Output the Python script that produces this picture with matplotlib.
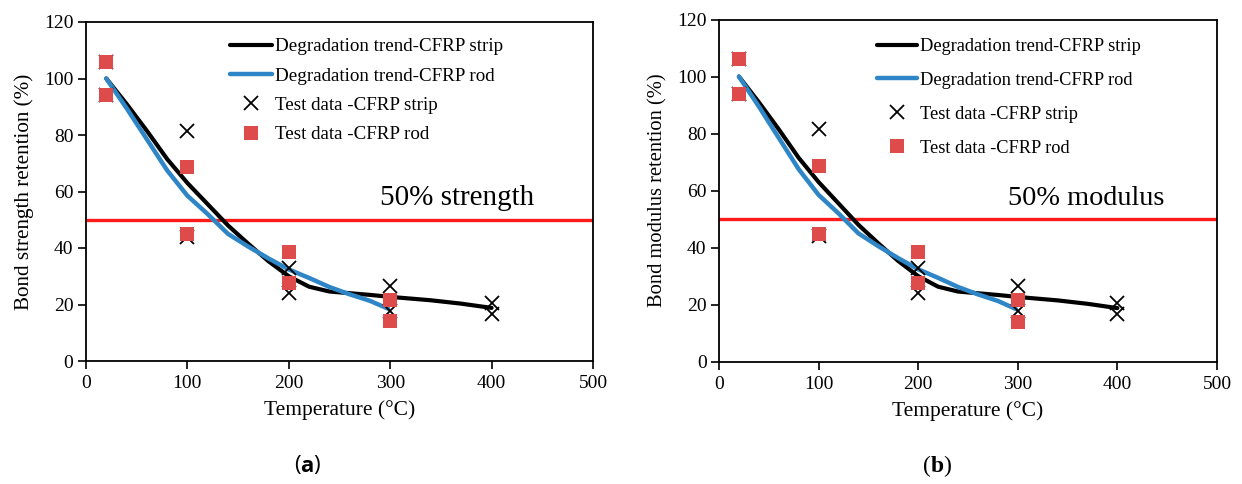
import matplotlib
matplotlib.use("Agg")
import matplotlib.pyplot as plt

# ---- data ----
temps_trend_strip = [20, 40, 60, 80, 100, 120, 140, 160, 180, 200, 220, 240, 260, 280, 300, 340, 370, 400]
trend_strip = [100, 91, 81.5, 71.5, 63, 55.5, 48, 41.5, 35.3, 30, 26.3, 24.6, 24, 23.4, 22.7, 21.5, 20.3, 18.8]
temps_trend_rod = [20, 40, 60, 80, 100, 120, 140, 160, 180, 200, 220, 240, 260, 280, 298]
trend_rod = [100, 89.5, 78.5, 67.5, 58.5, 52, 45, 40.5, 36.3, 32.4, 29.4, 26.2, 23.6, 21.3, 18.5]

temps_strip = [20, 20, 100, 100, 200, 200, 300, 300, 400, 400]
test_strip = [106, 94, 81.5, 44, 33, 24, 26.6, 17.7, 20.7, 16.8]
temps_rod = [20, 20, 100, 100, 200, 200, 300, 300]
test_rod = [106, 94, 68.5, 44.8, 38.5, 27.5, 21.5, 14]

x_ticks = [0, 100, 200, 300, 400, 500]
y_ticks = [0, 20, 40, 60, 80, 100, 120]
threshold = 50

W, H = 1242, 484
panels = [
    dict(ylabel="Bond strength retention (%)", note="50% strength", cap="a",
         px=(86, 593, 22, 361), leg_px=(230, 38), lfs=13.7, lsp=0.63, nfs=21,
         ylfs=15.2, cap_x=307),
    dict(ylabel="Bond modulus retention (%)", note="50% modulus", cap="b",
         px=(719, 1217, 19.5, 361.7), leg_px=(877, 38), lfs=13.2, lsp=0.92, nfs=20.3,
         ylfs=14.8, cap_x=937),
]

serif = ["Liberation Serif", "DejaVu Serif"]
plt.rcParams["font.family"] = serif

fig = plt.figure(figsize=(W / 100, H / 100), dpi=100)

for p in panels:
    x0, x1, yt, yb = p["px"]
    ax = fig.add_axes([x0 / W, 1 - yb / H, (x1 - x0) / W, (yb - yt) / H])
    ax.axhline(threshold, color="#ff1a1a", lw=2.4, zorder=1)
    l1, = ax.plot(temps_trend_strip, trend_strip, color="black", lw=3.0,
                  solid_capstyle="round", solid_joinstyle="round",
                  label="Degradation trend-CFRP strip", zorder=2)
    l2, = ax.plot(temps_trend_rod, trend_rod, color="#2f86c6", lw=3.2,
                  solid_capstyle="round", solid_joinstyle="round",
                  label="Degradation trend-CFRP rod", zorder=3)
    s1, = ax.plot(temps_strip, test_strip, linestyle="none", marker="x", color="black",
                  ms=10, mew=1.3, label="Test data -CFRP strip", zorder=4)
    s2, = ax.plot(temps_rod, test_rod, linestyle="none", marker="s", color="#dd4b4b",
                  ms=10.5, mew=0, label="Test data -CFRP rod", zorder=5)
    ax.set_xlim(0, 500)
    ax.set_ylim(0, 120)
    ax.set_xticks(x_ticks)
    ax.set_yticks(y_ticks)
    ax.tick_params(direction="out", length=6, width=1.2, labelsize=14)
    ax.tick_params(axis="x", pad=4)
    ax.tick_params(axis="y", pad=3)
    for sp in ax.spines.values():
        sp.set_linewidth(1.3)
    ax.set_xlabel("Temperature (°C)", fontsize=15.5, labelpad=6)
    ax.set_ylabel(p["ylabel"], fontsize=p["ylfs"], labelpad=7)
    ax.text(290, 53, p["note"], fontsize=p["nfs"], ha="left", va="bottom")
    lx, ly = p["leg_px"]
    ax.legend(handles=[l1, l2, s1, s2], loc="upper left",
              bbox_to_anchor=((lx - x0) / (x1 - x0), 1 - (ly - yt) / (yb - yt)),
              frameon=False, fontsize=p["lfs"], handlelength=2.2, handletextpad=0.15,
              labelspacing=p["lsp"], borderaxespad=0, borderpad=0)
    cy = 1 - 466 / H
    cx = p["cap_x"] / W
    if p["cap"] == "a":
        fam = ["Open Sans", "DejaVu Sans"]
        fig.text(cx - 0.0048, cy, "(", fontsize=16, ha="right", va="center", family=fam)
        fig.text(cx, cy, "a", fontsize=16, ha="center", va="center", family=fam,
                 fontweight="bold")
        fig.text(cx + 0.0048, cy, ")", fontsize=16, ha="left", va="center", family=fam)
    else:
        fig.text(cx - 0.005, cy, "(", fontsize=17, ha="right", va="center")
        fig.text(cx, cy, "b", fontsize=17, ha="center", va="center", fontweight="bold")
        fig.text(cx + 0.005, cy, ")", fontsize=17, ha="left", va="center")

fig.savefig("out.png", dpi=100)
